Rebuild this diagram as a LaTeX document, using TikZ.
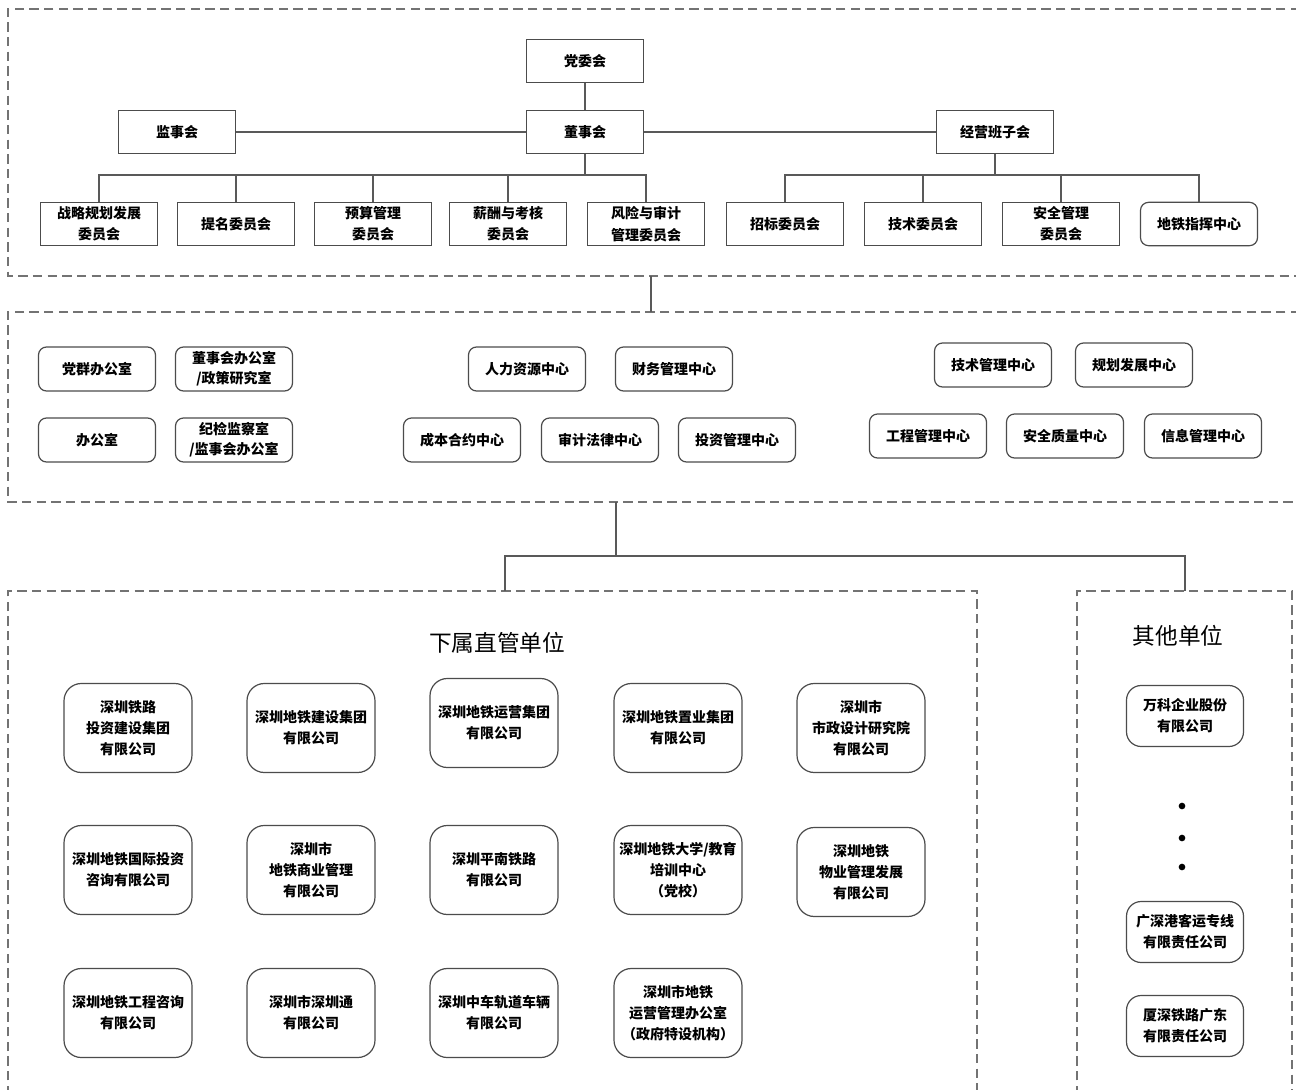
\documentclass[tikz,border=0pt]{standalone}
\usepackage{fontspec}
\newfontfamily\cjk{Noto Sans CJK SC}
\begin{document}
\begin{tikzpicture}[x=0.75pt,y=-0.75pt,
  line width=0.8pt,
  conn/.style={draw=black!65,line width=0.8pt},
  frame/.style={draw=black!55,dashed,dash pattern=on 7pt off 4pt,line width=0.9pt},
  rbox/.style={draw=black!70,line width=0.9pt,minimum width=87.75pt,minimum height=32.5pt,inner sep=0pt,align=center,font=\cjk\bfseries\fontsize{10.5}{16}\selectfont},
  rrbox/.style={rbox,rounded corners=6pt},
  mbox/.style={draw=black!70,line width=0.9pt,rounded corners=6pt,minimum width=87.75pt,minimum height=33pt,inner sep=0pt,align=center,font=\cjk\bfseries\fontsize{10.5}{15}\selectfont},
  bbox/.style={draw=black!70,line width=0.9pt,rounded corners=13pt,minimum width=96pt,minimum height=66.75pt,inner sep=0pt,align=center,font=\cjk\bfseries\fontsize{10.5}{15.75}\selectfont},
  obox/.style={draw=black!70,line width=0.9pt,rounded corners=11pt,minimum width=87.75pt,minimum height=45.75pt,inner sep=0pt,align=center,font=\cjk\bfseries\fontsize{10.5}{15.75}\selectfont},
  ttl/.style={font=\cjk\fontsize{17}{20}\selectfont,inner sep=0pt},
  dotn/.style={circle,fill=black,inner sep=0pt,minimum size=5pt}]
\useasboundingbox (0,0) rectangle (1296,1089);
\fill[white] (0,0) rectangle (1296,1089);

% dashed frames
\draw[frame] (1300,9) -- (8,9) -- (8,276) -- (1300,276);
\draw[frame] (1300,312) -- (8,312) -- (8,502) -- (1300,502);
\draw[frame] (8,1095) -- (8,591) -- (977,591) -- (977,1095);
\draw[frame] (1077,1095) -- (1077,591) -- (1292,591) -- (1292,1095);

% top section
\node[rbox] (dw) at (585,61) {党委会};
\node[rbox] (dsh) at (585,132) {董事会};
\node[rbox] (jsh) at (177,132) {监事会};
\node[rbox] (jy) at (995,132) {经营班子会};

\node[rbox] (c1) at (99,224) {战略规划发展\\委员会};
\node[rbox] (c2) at (236,224) {提名委员会};
\node[rbox] (c3) at (373,224) {预算管理\\委员会};
\node[rbox] (c4) at (508,224) {薪酬与考核\\委员会};
\node[rbox] (c5) at (646,224) {风险与审计\\管理委员会};

\node[rbox] (e1) at (785,224) {招标委员会};
\node[rbox] (e2) at (923,224) {技术委员会};
\node[rbox] (e3) at (1061,224) {安全管理\\委员会};
\node[rrbox] (e4) at (1199,224) {地铁指挥中心};

\coordinate (busA) at (585,175);
\coordinate (busB) at (995,175);

\draw[conn] (dw) -- (dsh);
\draw[conn] (jsh) -- (dsh);
\draw[conn] (dsh) -- (jy);
\draw[conn] (dsh.south) -- (busA);
\foreach \c in {c1,c2,c3,c4,c5} \draw[conn] (\c.north) |- (busA);
\draw[conn] (jy.south) -- (busB);
\foreach \c in {e1,e2,e3,e4} \draw[conn] (\c.north) |- (busB);

% link top -> middle
\coordinate (topB) at (651,276);
\coordinate (midT) at (651,312);
\draw[conn] (topB) -- (midT);

% middle section
\node[mbox] (m1) at (97,369) {党群办公室};
\node[mbox] (m2) at (234,369) {董事会办公室\\/政策研究室};
\node[mbox] (m3) at (97,440) {办公室};
\node[mbox] (m4) at (234,440) {纪检监察室\\/监事会办公室};
\node[mbox] (m5) at (527,369) {人力资源中心};
\node[mbox] (m6) at (674,369) {财务管理中心};
\node[mbox] (m7) at (462,440) {成本合约中心};
\node[mbox] (m8) at (600,440) {审计法律中心};
\node[mbox] (m9) at (737,440) {投资管理中心};
\node[mbox] (m10) at (993,365) {技术管理中心};
\node[mbox] (m11) at (1134,365) {规划发展中心};
\node[mbox] (m12) at (928,436) {工程管理中心};
\node[mbox] (m13) at (1065,436) {安全质量中心};
\node[mbox] (m14) at (1203,436) {信息管理中心};

% link middle -> bottom
\coordinate (midB) at (616,502);
\coordinate (jn) at (616,556);
\coordinate (leftT) at (505,591);
\coordinate (rightT) at (1185,591);
\draw[conn] (midB) -- (jn);
\draw[conn] (leftT) |- (jn);
\draw[conn] (rightT) |- (jn);

% bottom left
\node[ttl] (t1) at (497,643) {下属直管单位};
\node[bbox] (b1) at (128,728) {深圳铁路\\投资建设集团\\有限公司};
\node[bbox] (b2) at (311,728) {深圳地铁建设集团\\有限公司};
\node[bbox] (b3) at (494,723) {深圳地铁运营集团\\有限公司};
\node[bbox] (b4) at (678,728) {深圳地铁置业集团\\有限公司};
\node[bbox] (b5) at (861,728) {深圳市\\市政设计研究院\\有限公司};
\node[bbox] (b6) at (128,870) {深圳地铁国际投资\\咨询有限公司};
\node[bbox] (b7) at (311,870) {深圳市\\地铁商业管理\\有限公司};
\node[bbox] (b8) at (494,870) {深圳平南铁路\\有限公司};
\node[bbox] (b9) at (678,870) {深圳地铁大学/教育\\培训中心\\（党校）};
\node[bbox] (b10) at (861,872) {深圳地铁\\物业管理发展\\有限公司};
\node[bbox] (b11) at (128,1013) {深圳地铁工程咨询\\有限公司};
\node[bbox] (b12) at (311,1013) {深圳市深圳通\\有限公司};
\node[bbox] (b13) at (494,1013) {深圳中车轨道车辆\\有限公司};
\node[bbox] (b14) at (678,1013) {深圳市地铁\\运营管理办公室\\（政府特设机构）};

% bottom right
\node[ttl] (t2) at (1178,636) {其他单位};
\node[obox] (o1) at (1185,716) {万科企业股份\\有限公司};
\node[dotn] (d1) at (1182,806) {};
\node[dotn] (d2) at (1182,838) {};
\node[dotn] (d3) at (1182,867) {};
\node[obox] (o2) at (1185,932) {广深港客运专线\\有限责任公司};
\node[obox] (o3) at (1185,1026) {厦深铁路广东\\有限责任公司};
\end{tikzpicture}
\end{document}
